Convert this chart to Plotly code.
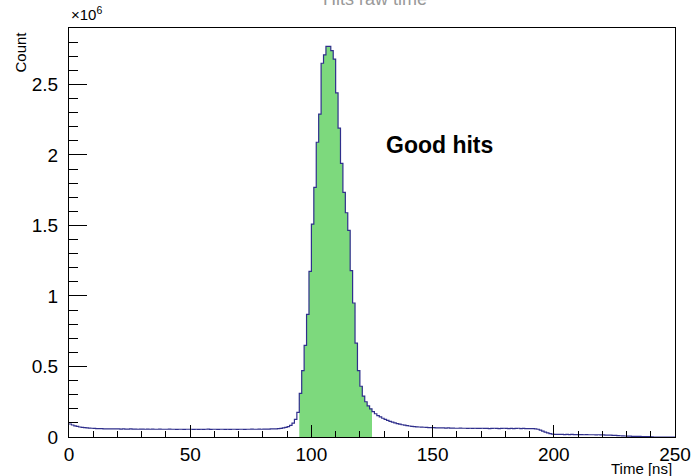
import plotly.graph_objects as go
import numpy as np

# ---------------- data ----------------
title_text = "Hits raw time"
x_title = "Time [ns]"
y_title = "Count"
label_text = "Good hits"

bin_low = 0.0        # ns, lower edge of first bin
bin_width = 1.0      # ns
# counts per 1-ns bin, in units of 1e6
counts_e6 = [
    0.092, 0.085, 0.079, 0.075, 0.071, 0.068, 0.066, 0.064, 0.063, 0.062,   # 0-9
    0.061, 0.060, 0.059, 0.059, 0.058, 0.058, 0.057, 0.057, 0.058, 0.057,   # 10-19
    0.057, 0.056, 0.057, 0.056, 0.056, 0.057, 0.056, 0.056, 0.055, 0.056,   # 20-29
    0.056, 0.055, 0.056, 0.055, 0.056, 0.055, 0.055, 0.056, 0.055, 0.055,   # 30-39
    0.055, 0.056, 0.055, 0.055, 0.054, 0.055, 0.055, 0.054, 0.055, 0.055,   # 40-49
    0.055, 0.054, 0.055, 0.054, 0.055, 0.054, 0.055, 0.056, 0.054, 0.055,   # 50-59
    0.055, 0.054, 0.055, 0.055, 0.054, 0.055, 0.054, 0.055, 0.055, 0.054,   # 60-69
    0.055, 0.055, 0.054, 0.055, 0.055, 0.056, 0.055, 0.055, 0.056, 0.055,   # 70-79
    0.056, 0.056, 0.056, 0.057, 0.057, 0.058, 0.059, 0.061, 0.064, 0.068,   # 80-89
    0.074, 0.083, 0.098, 0.125, 0.175, 0.310, 0.470, 0.650, 0.870, 1.175,   # 90-99
    1.510, 1.770, 2.090, 2.290, 2.650, 2.710, 2.770, 2.770, 2.740, 2.680,   # 100-109
    2.440, 2.190, 1.940, 1.735, 1.590, 1.465, 1.180, 0.950, 0.665, 0.470,   # 110-119
    0.360, 0.290, 0.250, 0.220, 0.200, 0.180, 0.165, 0.152, 0.142, 0.133,   # 120-129
    0.125, 0.118, 0.111, 0.105, 0.100, 0.095, 0.091, 0.087, 0.084, 0.081,   # 130-139
    0.078, 0.076, 0.074, 0.072, 0.071, 0.070, 0.069, 0.068, 0.067, 0.066,   # 140-149
    0.066, 0.065, 0.065, 0.064, 0.064, 0.063, 0.064, 0.063, 0.063, 0.062,   # 150-159
    0.062, 0.063, 0.062, 0.062, 0.061, 0.062, 0.061, 0.062, 0.061, 0.061,   # 160-169
    0.062, 0.061, 0.061, 0.060, 0.061, 0.062, 0.061, 0.060, 0.061, 0.062,   # 170-179
    0.061, 0.060, 0.061, 0.060, 0.061, 0.062, 0.060, 0.061, 0.060, 0.060,   # 180-189
    0.059, 0.059, 0.058, 0.055, 0.049, 0.042, 0.035, 0.029, 0.024, 0.020,   # 190-199
    0.018, 0.018, 0.018, 0.018, 0.017, 0.018, 0.017, 0.018, 0.017, 0.017,   # 200-209
    0.017, 0.017, 0.016, 0.017, 0.016, 0.016, 0.016, 0.015, 0.016, 0.015,   # 210-219
    0.015, 0.014, 0.014, 0.013, 0.012, 0.011, 0.010, 0.009, 0.008, 0.007,   # 220-229
    0.006, 0.006, 0.005, 0.005, 0.004, 0.004, 0.003, 0.003, 0.002, 0.002,   # 230-239
    0.001, 0.000, 0.000, 0.000, 0.000, 0.000, 0.000, 0.000, 0.000, 0.000,   # 240-249
]
count_scale = 1e6

good_first_bin = 95   # first bin of "good hits" window
good_last_bin = 124   # last bin of "good hits" window

x_range = [0, 250]
y_range = [0, 2.9e6]
x_tick_vals = [0, 50, 100, 150, 200, 250]
x_tick_text = ["0", "50", "100", "150", "200", "250"]
y_tick_vals = [0, 0.5e6, 1.0e6, 1.5e6, 2.0e6, 2.5e6]
y_tick_text = ["0", "0.5", "1", "1.5", "2", "2.5"]
label_pos = (130.0, 2.07e6)

# ---------------- derived ----------------
counts = np.array(counts_e6) * count_scale
n = len(counts)
edges = bin_low + bin_width * np.arange(n + 1)
step_y = np.append(counts, counts[-1])

g_edges = edges[good_first_bin:good_last_bin + 2]
g_y = np.append(counts[good_first_bin:good_last_bin + 1], counts[good_last_bin])

FONT = "Liberation Sans, Arial, sans-serif"
W, H = 691, 476
ml, mr, mt, mb = 69, 16, 28, 39
pw, ph = W - ml - mr, H - mt - mb

fig = go.Figure()
fig.add_trace(go.Scatter(
    x=g_edges, y=g_y, mode="lines", line_shape="hv",
    line=dict(width=0, color="rgba(0,0,0,0)"),
    fill="tozeroy",
    fillcolor="#7edc7e",
    fillpattern=dict(shape=".", bgcolor="#92e292", fgcolor="#62cf62",
                     size=2, solidity=0.5, fillmode="replace"),
    hoverinfo="skip", showlegend=False,
))
fig.add_trace(go.Scatter(
    x=edges, y=step_y, mode="lines", line_shape="hv",
    line=dict(width=1.2, color="#2f2f8c"),
    showlegend=False,
))

axis_common = dict(
    showline=True, linecolor="black", linewidth=1, mirror=True,
    ticks="inside", tickcolor="black", tickwidth=1,
    showgrid=False, zeroline=False, automargin=False,
    tickfont=dict(family=FONT, size=19, color="black"),
)
fig.update_xaxes(**axis_common, range=x_range, tickvals=x_tick_vals,
                 ticktext=x_tick_text, ticklen=12,
                 minor=dict(ticks="inside", ticklen=6, dtick=10,
                            tickcolor="black", tickwidth=1, showgrid=False))
fig.update_yaxes(**axis_common, range=y_range, tickvals=y_tick_vals,
                 ticktext=y_tick_text, ticklen=18, ticklabelstandoff=6,
                 minor=dict(ticks="inside", ticklen=9, dtick=1e5,
                            tickcolor="black", tickwidth=1, showgrid=False))

ann = []
ann.append(dict(text=title_text, xref="paper", yref="paper",
                x=(375 - ml) / pw, y=1 + (mt - 11) / ph, xanchor="center",
                yanchor="bottom", showarrow=False,
                font=dict(family=FONT, size=18, color="#999999")))
ann.append(dict(text="×10<sup>6</sup>", xref="paper", yref="paper",
                x=0, y=1 + 3 / ph, xanchor="left", yanchor="bottom",
                showarrow=False, font=dict(family=FONT, size=15, color="black")))
ann.append(dict(text=y_title, xref="paper", yref="paper", textangle=-90,
                x=(20 - ml) / pw, y=1 - 2 / ph, xanchor="center", yanchor="top",
                showarrow=False, font=dict(family=FONT, size=15, color="black")))
ann.append(dict(text=x_title, xref="paper", yref="paper",
                x=(674 - ml) / pw, y=-(468 - (H - mb)) / ph, xanchor="right",
                yanchor="middle", showarrow=False,
                font=dict(family=FONT, size=15, color="black")))
ann.append(dict(text="<b>" + label_text + "</b>", xref="x", yref="y",
                x=label_pos[0], y=label_pos[1], xanchor="left", yanchor="middle",
                showarrow=False, font=dict(family=FONT, size=23, color="black")))

fig.update_layout(
    width=W, height=H, margin=dict(l=ml, r=mr, t=mt, b=mb, autoexpand=False),
    paper_bgcolor="white", plot_bgcolor="white",
    annotations=ann, showlegend=False,
)
fig.write_html("out.html")
